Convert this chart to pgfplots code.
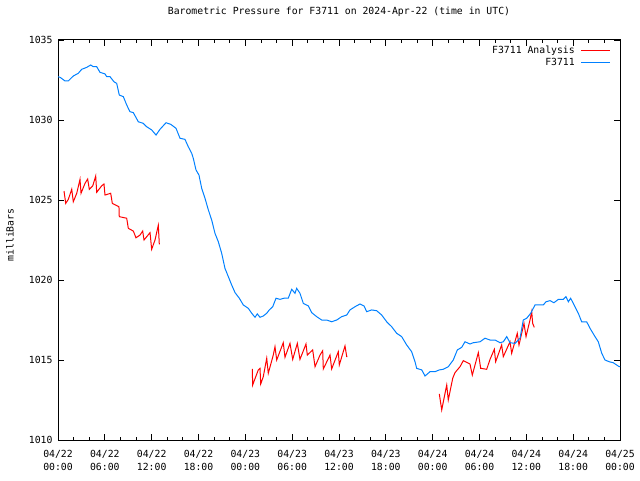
\documentclass[border=0pt]{standalone}
\usepackage{fontspec}
\usepackage{pgfplots}
\pgfplotsset{compat=1.18}
\newfontfamily\gfont{DejaVu Sans Mono}
\newcommand{\gf}{\gfont\fontsize{9.8}{12.5}\selectfont}
\definecolor{gred}{RGB}{255,0,0}
\definecolor{gblue}{RGB}{0,128,255}
\begin{document}
\begin{tikzpicture}[x=1pt,y=1pt]
\path[use as bounding box] (0,0) rectangle (640,480);
\begin{axis}[
  at={(58pt,40pt)}, anchor=south west,
  scale only axis, width=562pt, height=400pt,
  xmin=0, xmax=72, ymin=1010, ymax=1035,
  xtick={0,6,...,72}, minor x tick num=2,
  ytick={1010,1015,...,1035},
  xticklabels={{04/22\\00:00},{04/22\\06:00},{04/22\\12:00},{04/22\\18:00},{04/23\\00:00},{04/23\\06:00},{04/23\\12:00},{04/23\\18:00},{04/24\\00:00},{04/24\\06:00},{04/24\\12:00},{04/24\\18:00},{04/25\\00:00}},
  xticklabel style={font=\gf, align=center, anchor=north, yshift=-7pt},
  yticklabel style={font=\gf, anchor=east, xshift=-2pt},
  /pgf/number format/assume math mode=true,
  /pgf/number format/set thousands separator={},
  tick align=inside, major tick length=6pt, minor tick length=3pt,
  tick style={black, line width=0.8pt},
  axis line style={black, line width=1pt},
  title={Barometric Pressure for F3711 on 2024-Apr-22 (time in UTC)},
  title style={font=\gf, at={(axis description cs:0.5,1)}, anchor=center, yshift=22pt},
  ylabel={milliBars},
  ylabel style={font=\gf, at={(axis description cs:-0.0854,0.5125)}, anchor=center},
  legend plot pos=right, legend cell align=right,
  legend style={draw=none, fill=none, font=\gf, at={(rel axis cs:1,1)}, anchor=north east, xshift=-6pt, yshift=-2pt, row sep=-1pt},
  legend image code/.code={\path (0pt,0pt); \draw[#1] (4pt,0pt) -- (33pt,0pt);},
  unbounded coords=jump,
  clip=true,
]
\addplot[gred, line width=1pt, mark=none] coordinates {
(0.77,1025.56) (0.99,1024.79) (1.32,1025.04) (1.76,1025.67) (1.96,1024.89) (2.40,1025.42) (2.82,1026.29) (2.95,1025.42) (3.46,1026.04) (3.80,1026.31) (4.01,1025.67) (4.45,1025.88) (4.83,1026.50) (4.96,1025.48) (5.60,1025.89) (5.89,1026.00) (6.02,1025.31) (6.75,1025.42) (6.96,1024.79) (7.81,1024.58) (7.85,1023.96) (8.80,1023.86) (9.01,1023.23) (9.65,1023.06) (9.99,1022.64) (10.51,1022.81) (10.85,1023.06) (11.02,1022.50) (11.79,1022.96) (12.00,1021.92) (12.43,1022.50) (12.85,1023.42) (12.98,1022.23)
(13.5,nan)
(24.89,1014.44) (24.94,1013.44) (25.66,1014.38) (25.88,1014.48) (25.97,1013.50) (26.30,1013.96) (26.74,1015.11) (26.94,1014.17) (27.58,1015.31) (27.80,1015.83) (28.02,1015.00) (28.86,1016.08) (29.08,1015.17) (29.72,1016.04) (30.07,1015.04) (30.66,1016.04) (31.00,1015.04) (31.77,1016.00) (31.94,1015.31) (32.63,1015.63) (32.93,1014.58) (33.57,1015.31) (33.91,1015.58) (33.99,1014.44) (34.85,1015.31) (35.06,1014.44) (35.91,1015.52) (36.04,1014.69) (36.77,1015.88) (36.99,1015.21) (37.06,1015.21)
(40,nan)
(48.85,1012.88) (49.16,1011.88) (49.80,1013.44) (50.00,1012.50) (50.57,1013.86) (50.86,1014.21) (51.50,1014.58) (51.93,1014.96) (52.78,1014.75) (53.08,1014.06) (53.85,1015.46) (54.15,1014.48) (54.92,1014.42) (55.35,1015.04) (55.90,1015.67) (56.07,1014.89) (56.84,1015.94) (57.05,1015.21) (57.91,1016.14) (58.12,1015.42) (58.84,1016.67) (59.06,1015.94) (59.70,1017.29) (59.96,1016.46) (60.47,1017.50) (60.69,1018.02) (60.81,1017.29) (61.02,1017.04)
};
\addlegendentry{F3711 Analysis}
\addplot[gblue, line width=1pt, mark=none] coordinates {
(0.00,1032.70) (0.26,1032.67) (0.90,1032.44) (1.32,1032.44) (1.96,1032.75) (2.60,1032.92) (3.04,1033.17) (3.68,1033.29) (4.19,1033.44) (4.52,1033.33) (4.96,1033.33) (5.38,1032.98) (6.02,1032.88) (6.24,1032.71) (6.66,1032.71) (7.17,1032.39) (7.52,1032.29) (7.85,1031.56) (8.37,1031.46) (8.80,1030.94) (9.22,1030.52) (9.65,1030.46) (10.29,1029.89) (10.93,1029.79) (11.36,1029.58) (12.00,1029.38) (12.56,1029.06) (13.07,1029.42) (13.84,1029.83) (14.44,1029.73) (15.12,1029.48) (15.63,1028.86) (16.27,1028.79) (16.69,1028.33) (17.13,1027.92) (17.33,1027.61) (17.68,1026.88) (18.06,1026.56) (18.41,1025.73) (18.83,1025.11) (19.26,1024.38) (19.69,1023.75) (20.11,1022.92) (20.54,1022.39) (20.97,1021.67) (21.39,1020.73) (21.82,1020.21) (22.25,1019.69) (22.68,1019.21) (23.23,1018.86) (23.74,1018.44) (24.38,1018.23) (24.82,1017.92) (25.24,1017.67) (25.53,1017.88) (25.88,1017.67) (26.30,1017.75) (26.74,1017.92) (27.07,1018.13) (27.51,1018.33) (27.93,1018.86) (28.44,1018.79) (28.95,1018.86) (29.50,1018.86) (29.94,1019.42) (30.36,1019.17) (30.58,1019.48) (31.00,1019.17) (31.43,1018.54) (32.07,1018.38) (32.50,1017.96) (33.14,1017.71) (33.78,1017.50) (34.42,1017.50) (35.06,1017.39) (35.71,1017.50) (36.35,1017.71) (36.99,1017.81) (37.41,1018.13) (38.05,1018.33) (38.69,1018.50) (39.20,1018.38) (39.55,1018.02) (40.19,1018.13) (40.83,1018.08) (41.47,1017.81) (42.11,1017.39) (42.75,1017.08) (43.39,1016.67) (44.03,1016.46) (44.67,1015.94) (45.31,1015.52) (45.74,1014.89) (45.95,1014.48) (46.60,1014.38) (47.02,1014.00) (47.66,1014.27) (48.30,1014.27) (48.85,1014.38) (49.36,1014.42) (50.00,1014.58) (50.64,1015.00) (51.16,1015.63) (51.72,1015.79) (52.14,1016.14) (52.78,1016.00) (53.20,1016.08) (54.07,1016.14) (54.70,1016.36) (55.35,1016.25) (55.99,1016.25) (56.63,1016.08) (57.05,1016.14) (57.49,1016.46) (57.91,1016.08) (58.55,1016.04) (59.19,1016.36) (59.61,1017.50) (60.05,1017.61) (60.56,1017.92) (61.11,1018.44) (61.75,1018.44) (62.17,1018.44) (62.52,1018.64) (63.03,1018.71) (63.54,1018.58) (64.10,1018.79) (64.74,1018.79) (65.08,1018.96) (65.38,1018.64) (65.68,1018.86) (66.23,1018.33) (66.66,1017.92) (67.09,1017.39) (67.73,1017.39) (68.16,1016.98) (68.80,1016.46) (69.22,1016.14) (69.66,1015.42) (70.08,1015.00) (70.63,1014.89) (71.14,1014.83) (71.91,1014.58) (72.00,1014.58)
};
\addlegendentry{F3711}
\end{axis}
\end{tikzpicture}
\end{document}
